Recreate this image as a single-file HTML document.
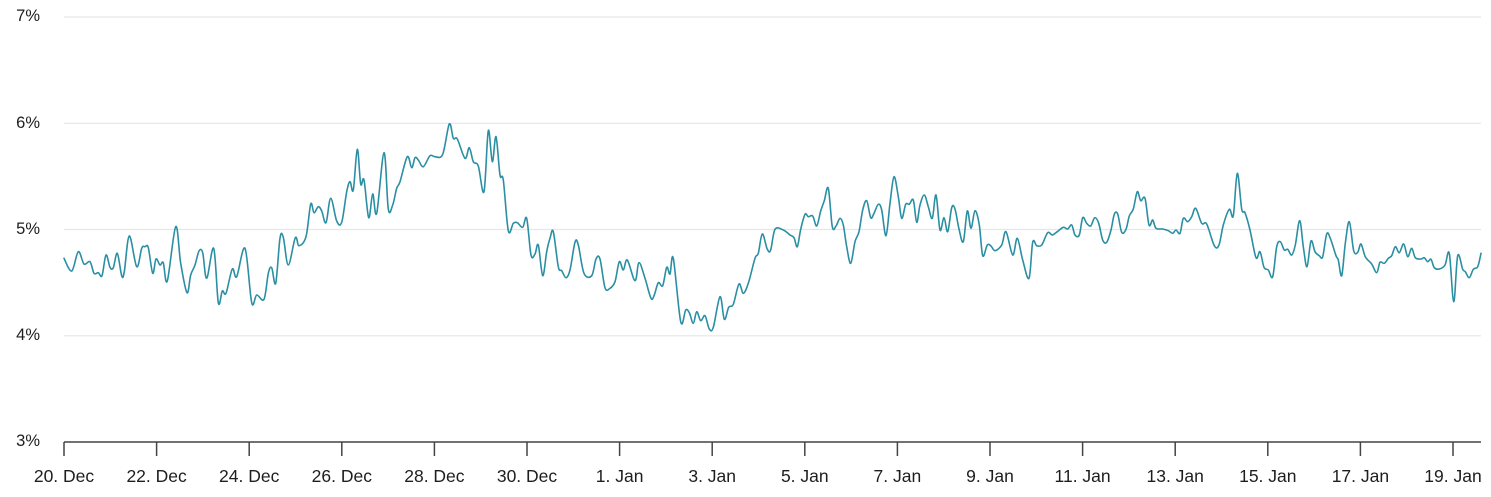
<!DOCTYPE html>
<html>
<head>
<meta charset="utf-8">
<style>
  html, body { margin: 0; padding: 0; background: #ffffff; }
  body { width: 1491px; height: 497px; overflow: hidden; }
  svg { display: block; }
  text { font-family: "Liberation Sans", "DejaVu Sans", sans-serif; fill: #1e1e1e; }
</style>
</head>
<body>
<svg width="1491" height="497" viewBox="0 0 1491 497" xmlns="http://www.w3.org/2000/svg">
  <!-- gridlines -->
  <g stroke="#e6e6e6" stroke-width="1.2">
    <line x1="64" y1="17" x2="1481" y2="17"/>
    <line x1="64" y1="123.3" x2="1481" y2="123.3"/>
    <line x1="64" y1="229.5" x2="1481" y2="229.5"/>
    <line x1="64" y1="335.8" x2="1481" y2="335.8"/>
  </g>
  <!-- y labels -->
  <g font-size="16.5" text-anchor="end">
    <text x="40" y="21">7%</text>
    <text x="40" y="128">6%</text>
    <text x="40" y="234">5%</text>
    <text x="40" y="340">4%</text>
    <text x="40" y="446">3%</text>
  </g>
  <!-- x axis -->
  <line x1="64" y1="442" x2="1481" y2="442" stroke="#444" stroke-width="1.5"/>
  <g stroke="#444" stroke-width="1.5">
    <line x1="64" y1="442" x2="64" y2="456"/>
    <line x1="156.6" y1="442" x2="156.6" y2="456"/>
    <line x1="249.2" y1="442" x2="249.2" y2="456"/>
    <line x1="341.8" y1="442" x2="341.8" y2="456"/>
    <line x1="434.4" y1="442" x2="434.4" y2="456"/>
    <line x1="527" y1="442" x2="527" y2="456"/>
    <line x1="619.6" y1="442" x2="619.6" y2="456"/>
    <line x1="712.2" y1="442" x2="712.2" y2="456"/>
    <line x1="804.8" y1="442" x2="804.8" y2="456"/>
    <line x1="897.4" y1="442" x2="897.4" y2="456"/>
    <line x1="990" y1="442" x2="990" y2="456"/>
    <line x1="1082.6" y1="442" x2="1082.6" y2="456"/>
    <line x1="1175.2" y1="442" x2="1175.2" y2="456"/>
    <line x1="1267.8" y1="442" x2="1267.8" y2="456"/>
    <line x1="1360.4" y1="442" x2="1360.4" y2="456"/>
    <line x1="1453" y1="442" x2="1453" y2="456"/>
  </g>
  <g font-size="17.5" text-anchor="middle">
    <text x="64" y="482">20. Dec</text>
    <text x="156.6" y="482">22. Dec</text>
    <text x="249.2" y="482">24. Dec</text>
    <text x="341.8" y="482">26. Dec</text>
    <text x="434.4" y="482">28. Dec</text>
    <text x="527" y="482">30. Dec</text>
    <text x="619.6" y="482">1. Jan</text>
    <text x="712.2" y="482">3. Jan</text>
    <text x="804.8" y="482">5. Jan</text>
    <text x="897.4" y="482">7. Jan</text>
    <text x="990" y="482">9. Jan</text>
    <text x="1082.6" y="482">11. Jan</text>
    <text x="1175.2" y="482">13. Jan</text>
    <text x="1267.8" y="482">15. Jan</text>
    <text x="1360.4" y="482">17. Jan</text>
    <text x="1453" y="482">19. Jan</text>
  </g>
  <!-- series -->
  <polyline id="series" fill="none" stroke="#2a8fa3" stroke-width="1.6" stroke-linejoin="round" stroke-linecap="round" points="
64,258.3 71.7,271 78.3,251.7 84,264 90,261.7 94,273.3 98.3,272.7 102,275.7 106,255 110,267.3 113.3,267.7 117.3,253.3 121.7,275.7 124.3,271.7 129.3,236 136.7,266.7 141.7,248.3 145,246.7 148.3,247.7 152.7,273.3 156,259 160,265 163.3,262.7 167.3,281 175.7,226.7 180.7,263.3 187,292.7 190.7,275 195,265 199,251 202.7,252.7 206.7,278.3 213.7,248.3 218.3,302.7 222.3,291 226,293.3 232.3,269 236.7,276.7 245,248.3 251.7,302.7 256.7,295 264,299.3 268.3,273.3 271.7,267.7 275.7,283.3 280,238.3 283.3,237.3 288.3,265 295.3,237.7 299,245.7 306,236.7
310.7,204 314,212.7 318.3,206.7 321.7,211 326,222.7 330.7,198.3 336.7,221 341.7,222.3 346.7,191.7 350,181.7 353.3,190 357.3,149.3 360.7,184 364,180 368.7,217.7 372.7,194 376.7,213.3 384,152.7 388.3,209 392.7,205 396.7,188.3 400,181.7 407.3,156.7 411.7,167.7 415,157.7 418.3,160 423.3,166.7 430,155.7 435,156.7 442.7,154.3 449.3,124 453.3,138.3 457.3,139 465,158.3 469.3,147.7 473.3,161.7 478.3,166 484,191.7 488.3,130.7 492.3,161.7 496,136.7 500,175 503.3,180 508.3,230.7 513.3,223.3 517.3,222.7 522.7,227.3 526.7,218.3 531,255 535,254 538.3,245 542.7,275.7 546.7,251.7 550,238.3
553.3,231.7 558.3,266.7 561.7,270.7 566,277.7 570,270 575,242.3 578.3,245 584,273.3 591.7,275.7 596,259 600,259 605,287.7 610,288.3 615,281.7 619.3,261.7 623.3,270 627.3,260 635,280.7 639,262.7 645,278.3 651,298.3 654.3,295 658.3,282.7 662.7,285.7 666.7,267.3 670,274 673.3,258.3 680.7,321.7 685.7,310 689.3,312.7 693.3,323.3 696.7,311.7 700.7,320.7 705,315.7 709.3,329 713.3,327.3 720,296.7 724.3,319.3 728.7,307.3 733.3,304.3 739,284 743.3,293.3 748.3,283.3 755,258.3 758.3,253.3 762.3,234 767.3,249.3 770.7,250 775,229.3 783.3,230
790,235 794,237.7 797.3,246.7 800.7,229.3 805,214.3 808.3,216.7 812.7,216 816.7,226 820.7,211 824.3,200.7 828.3,188.3 832.3,226.7 836,226 840,218.3 843.3,225 846.7,246.7 850.7,263.3 855,241.7 859,231.7 862.7,210 866.7,200.7 870.7,217.7 874,213.3 878.3,204.3 881.7,210 886,235.7 890,203.3 894,176.7 898.3,196.7 901.7,218.3 905.7,204.3 909.3,204.3 913.3,200 916.7,222.3 920,205 924.3,195 928.3,206.7 932.3,218.3 936,195 940,230 944,217.7 947.7,231.7 951.7,207.7 955,209 959,229 963.3,241.7 967.3,211 971,228.3 975,210.7 979.3,225 982.7,255.7 987.3,245 991,246 995,250.7 1001.7,245 1006,231.7 1012.7,255 1017.3,238.3 1022.7,260
1029,278.3 1032.7,242.3 1036.7,245.7 1041.7,245 1047.7,232.7 1052.3,235 1057.3,231.7 1063.3,227.3 1067.7,229 1071.7,225 1075,235 1079.3,235 1082.7,217.7 1086.7,223.3 1090.7,226 1094.7,217.7 1098.7,223.3 1102.7,240 1106.7,242.3 1111,230 1114.3,214.3 1117.7,214 1121.7,232.3 1126,229.3 1129.3,216 1133.3,209 1137.3,191.7 1140.7,200.7 1145,198.3 1149,225 1152.7,220 1156,228.3 1162.7,229 1168.3,230.7 1172.7,233.3 1176,230 1180,233.3 1183.3,218.3 1187.7,221.7 1191.7,216.7 1195.7,208.3 1201.7,223.3 1206.7,224 1214.3,245.7 1219,245 1223.3,225 1229.3,209.3 1233.3,215.7 1237.3,173.3 1241.7,209 1245,212.7 1250,230 1256,257.7 1260,251.7 1264,267.3
1268.3,270 1272.7,276.7 1276.7,246.7 1280.3,241.7 1284.3,250 1287.7,249.3 1291.7,255 1295.3,245 1299.7,220.7 1303.3,246.7 1307,266.7 1311,241 1315,251.7 1319.3,255.7 1322.7,256.7 1326.7,234 1330.3,238.3 1336,255.7 1338.3,260 1341.7,275.7 1345.3,243.3 1349.3,221.7 1353.7,250.7 1357.7,252.3 1361,244 1365.3,256.7 1371.7,264 1376.7,272.7 1380,262.3 1384.3,263.3 1388.3,258.3 1391.7,255.7 1395.3,246.7 1399.3,252.7 1403.7,244 1407.7,256.7 1411.7,248.3 1415.3,257.7 1421,259 1424.3,257.7 1427.7,261.7 1431,259.3 1434.3,267.7 1439.3,269 1445,265 1449.3,253.3 1453.7,301.7 1457.7,255.7 1462.7,269.3 1465.3,271.7 1469.3,277.7 1473.3,269.3 1477.7,266.7 1481,253.3"/>
</svg>
<script>
(function(){
  try {
    var pl = document.getElementById('series');
    var raw = pl.getAttribute('points').trim().split(/\s+/);
    var p = raw.map(function(s){ var a = s.split(','); return [parseFloat(a[0]), parseFloat(a[1])]; });
    var d = 'M' + p[0][0] + ',' + p[0][1];
    var t = 0.5;
    for (var i = 0; i < p.length - 1; i++) {
      var p0 = p[i-1] || p[i], p1 = p[i], p2 = p[i+1], p3 = p[i+2] || p2;
      var c1x = p1[0] + (p2[0]-p0[0]) * t / 3, c1y = p1[1] + (p2[1]-p0[1]) * t / 3;
      var c2x = p2[0] - (p3[0]-p1[0]) * t / 3, c2y = p2[1] - (p3[1]-p1[1]) * t / 3;
      d += ' C' + c1x.toFixed(2) + ',' + c1y.toFixed(2) + ' ' + c2x.toFixed(2) + ',' + c2y.toFixed(2) + ' ' + p2[0] + ',' + p2[1];
    }
    var path = document.createElementNS('http://www.w3.org/2000/svg', 'path');
    path.setAttribute('d', d);
    path.setAttribute('fill', 'none');
    path.setAttribute('stroke', '#2a8fa3');
    path.setAttribute('stroke-width', '1.6');
    path.setAttribute('stroke-linejoin', 'round');
    path.setAttribute('stroke-linecap', 'round');
    pl.parentNode.replaceChild(path, pl);
  } catch (e) {}
})();
</script>
</body>
</html>
